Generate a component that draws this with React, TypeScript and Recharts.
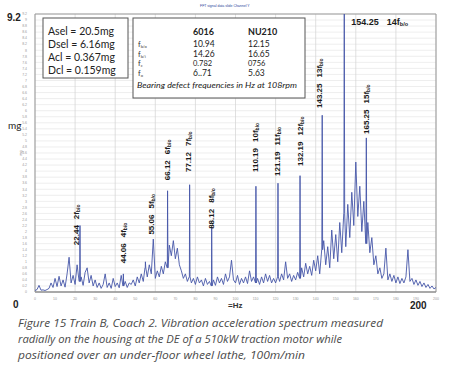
import React from "react";
import {
  ComposedChart,
  Line,
  XAxis,
  YAxis,
  CartesianGrid,
  ReferenceDot,
  ReferenceArea,
} from "recharts";

const TRACE = "#4556a8";
const FONT = "'Liberation Sans', Arial, sans-serif";
const BOX_FONT = "Lato, 'Open Sans', sans-serif";

// background spectrum, one value per Hz from 0 to 200 Hz (mg)
const NOISE: number[] = [
  0.05, 0.08, 0.22, 0.06, 0.07, 0.05, 0.08, 0.12, 0.3, 0.15,
  0.45, 0.18, 0.52, 0.2, 0.4, 0.16, 0.6, 1.15, 0.3, 0.55,
  0.25, 0.9, 0.35, 0.5, 0.22, 0.65, 0.8, 0.3, 0.55, 0.2,
  0.4, 0.15, 0.3, 0.12, 0.25, 0.6, 0.15, 0.3, 0.12, 0.45,
  0.18, 0.3, 0.14, 0.55, 0.2, 0.35, 0.15, 0.3, 0.25, 0.4,
  0.2, 0.5, 0.3, 0.6, 0.35, 0.8, 0.5, 0.9, 0.6, 1.75,
  0.45, 0.7, 0.5, 0.85, 0.6, 1.0, 0.8, 1.55, 1.2, 1.7,
  1.1, 1.45, 0.9, 0.7, 0.45, 0.6, 0.35, 0.5, 0.3, 0.45,
  0.25, 0.5, 0.3, 0.4, 0.2, 0.45, 0.25, 0.35, 0.2, 0.4,
  0.22, 0.5, 0.3, 0.45, 0.25, 0.6, 0.35, 0.5, 1.05, 0.4,
  0.3, 0.55, 0.25, 0.45, 0.3, 0.5, 0.28, 0.7, 0.35, 0.5,
  0.3, 0.45, 0.25, 0.5, 0.3, 0.6, 0.35, 0.55, 0.3, 0.45,
  0.3, 0.5, 0.35, 0.6, 0.4, 1.0, 0.45, 0.6, 0.35, 0.55,
  0.4, 0.65, 0.45, 0.8, 0.5, 0.95, 0.6, 0.85, 0.55, 1.05,
  0.7, 1.2, 0.6, 1.4, 1.7, 0.9, 1.5, 0.8, 2.05, 1.1,
  1.9, 1.0, 2.3, 1.3, 2.6, 1.5, 2.9, 1.8, 3.3, 2.2,
  4.3, 2.5, 3.5, 2.0, 3.0, 1.6, 2.3, 1.3, 1.8, 0.9,
  1.2, 0.6, 0.8, 0.45, 0.6, 1.45, 0.4, 0.6, 0.35, 0.55,
  0.3, 0.5, 0.28, 0.45, 0.3, 0.5, 1.4, 0.35, 0.45, 0.25,
  0.4, 0.22, 0.35, 0.18, 0.3, 0.15, 0.25, 0.12, 0.2, 0.1,
  0.15,
];

// labelled bearing-defect harmonics
const PEAK_HZ = [22.44, 44.06, 55.06, 66.12, 77.12, 88.12, 110.19, 121.19, 132.19, 143.25, 154.25, 165.25];
const PEAK_MG = [2.2, 0.6, 1.0, 3.35, 3.55, 2.15, 3.5, 3.6, 3.85, 5.85, 9.2, 5.1];
const PEAK_ORDER = ["2", "4", "5", "6", "7", "8", "10", "11", "12", "13", "14", "15"];
const LABEL_MG = [1.55, 0.95, 1.9, 3.7, 3.97, 2.09, 3.97, 3.84, 4.17, 6.09, 8.94, 5.23];
const LABEL_DX = [-4, 0, 6, -1, -1.5, -1, -1, -1, 0, -3, 7, 0];

const X_TICKS = [0, 10, 20, 30, 40, 50, 60, 70, 80, 90, 100, 110, 120, 130, 140, 150, 160, 170, 180, 190, 200];
const Y_TICKS = [
  0, 0.2, 0.4, 0.6, 0.8, 1, 1.2, 1.4, 1.6, 1.8, 2, 2.2, 2.4, 2.6, 2.8, 3, 3.2, 3.4, 3.6, 3.8, 4, 4.2, 4.4,
  4.6, 4.8, 5, 5.2, 5.4, 5.6, 5.8, 6, 6.2, 6.4, 6.6, 6.8, 7, 7.2, 7.4, 7.6, 7.8, 8, 8.2, 8.4, 8.6, 8.8, 9, 9.2,
];

const SEL_LINES = ["Asel = 20.5mg", "Dsel = 6.16mg", "Acl = 0.367mg", "Dcl = 0.159mg"];
const BEARINGS = ["6016", "NU210"];
const FREQ_NAMES = ["b/o", "b/i", "c", "o"];
const FREQ_6016 = ["10.94", "14.26", "0.782", "6..71"];
const FREQ_NU210 = ["12.15", "16.65", "0756", "5.63"];

const CAPTION = [
  "Figure 15 Train B, Coach 2. Vibration acceleration spectrum measured",
  "radially on the housing at the DE of a 510kW traction motor while",
  "positioned over an under-floor wheel lathe, 100m/min",
];
const CAPTION_W = [365, 324, 287];

const spectrum = (() => {
  const pts = NOISE.map((v, i) => ({ f: i, v }));
  PEAK_HZ.forEach((f, k) => {
    const base = NOISE[Math.round(f)];
    pts.push({ f: f - 0.2, v: base }, { f, v: PEAK_MG[k] }, { f: f + 0.2, v: base });
  });
  return pts.sort((a, b) => a.f - b.f);
})();

const PeakLabel = ({ viewBox, value, order, dx }: any) => {
  if (!viewBox) return null;
  const cx = viewBox.x + viewBox.width / 2 + dx;
  const cy = viewBox.y + viewBox.height / 2;
  return (
    <text
      transform={`translate(${cx},${cy}) rotate(-90)`}
      fontFamily={FONT}
      fontWeight="bold"
      fontSize={8}
      fill="#1a1a1a"
      dominantBaseline="central"
    >
      <tspan>{value}</tspan>
      <tspan dx={6}>{order}f</tspan>
      <tspan fontSize={5} dy={2}>b/o</tspan>
    </text>
  );
};

const TopLabel = ({ viewBox, value, order, dx }: any) => {
  if (!viewBox) return null;
  const x = viewBox.x + viewBox.width / 2 + dx;
  const y = viewBox.y + viewBox.height / 2;
  return (
    <text x={x} y={y} fontFamily={FONT} fontWeight="bold" fontSize={9} fill="#1a1a1a" dominantBaseline="central">
      <tspan>{value}</tspan>
      <tspan dx={8}>{order}f</tspan>
      <tspan fontSize={5.5} dy={2.5}>b/o</tspan>
    </text>
  );
};

const fmtY = (v: number) => `${Math.round(v * 10) / 10}`;

export default function App() {
  return (
    <div style={{ position: "absolute", left: 0, top: 0, width: 450, height: 370, background: "#fff", overflow: "hidden" }}>
      <ComposedChart
        width={450}
        height={305}
        data={spectrum}
        margin={{ top: 14, right: 14, left: 23, bottom: 3 }}
      >
        <CartesianGrid horizontal vertical={false} stroke="#e6e6e6" strokeWidth={0.7} />
        <CartesianGrid horizontal={false} vertical stroke="#d2d2d2" strokeWidth={0.7} />
        <XAxis
          dataKey="f"
          type="number"
          domain={[0, 200]}
          ticks={X_TICKS}
          height={10}
          tick={{ fontSize: 3.5, fill: "#9a9a9a", fontFamily: FONT, dy: -2 }}
          tickLine={false}
          axisLine={{ stroke: "#8a8a8a" }}
          allowDataOverflow
        />
        <YAxis
          type="number"
          domain={[0, 9.2]}
          ticks={Y_TICKS}
          width={12}
          interval={0}
          tickFormatter={fmtY}
          tick={{ fontSize: 3.5, fill: "#9a9a9a", fontFamily: FONT }}
          tickLine={false}
          axisLine={false}
          allowDataOverflow
        />
        <ReferenceArea x1={0} x2={200} y1={0} y2={9.2} fill="none" stroke="#9a9a9a" strokeWidth={1} />
        <Line
          dataKey="v"
          type="linear"
          stroke={TRACE}
          strokeWidth={0.9}
          dot={false}
          isAnimationActive={false}
        />
        {PEAK_HZ.map((f, k) => (
          <ReferenceDot
            key={f}
            x={f}
            y={LABEL_MG[k]}
            r={1}
            fill="none"
            stroke="none"
            label={(p: any) =>
              k === 10 ? (
                <TopLabel viewBox={p.viewBox} value={f.toFixed(2)} order={PEAK_ORDER[k]} dx={LABEL_DX[k]} />
              ) : (
                <PeakLabel viewBox={p.viewBox} value={f.toFixed(2)} order={PEAK_ORDER[k]} dx={LABEL_DX[k]} />
              )
            }
          />
        ))}
      </ComposedChart>

      <svg width={450} height={370} style={{ position: "absolute", left: 0, top: 0, pointerEvents: "none" }}>
        <text x={200} y={7} fontSize={3.5} fill="#2b3f9a" fontFamily={FONT}>FFT signal data slide Channel Y</text>

        <text x={7} y={21} fontSize={10} fontWeight="bold" fill="#222" fontFamily={FONT}>9.2</text>
        <text x={13} y={308} fontSize={10} fontWeight="bold" fill="#222" fontFamily={FONT}>0</text>
        <text x={410} y={309} fontSize={10} fontWeight="bold" fill="#222" fontFamily={FONT}>200</text>
        <text x={228} y={308} fontSize={8} fontWeight="bold" fill="#333" fontFamily={FONT}>=Hz</text>
        <text x={8} y={129} fontSize={10} fill="#222" fontFamily={BOX_FONT}>mg</text>
        <text transform="translate(22,153) rotate(-90)" fontSize={3.5} fill="#777" fontFamily={FONT} textAnchor="middle">mg</text>

        <rect x={43} y={18} width={85} height={60} fill="#fff" stroke="#555" strokeWidth={1} />
        {SEL_LINES.map((s, i) => (
          <text key={s} x={48} y={35 + i * 13} fontSize={10.5} fill="#222" fontFamily={BOX_FONT}>{s}</text>
        ))}

        <rect x={133} y={18} width={172} height={80} fill="#fff" stroke="#555" strokeWidth={1} />
        <text x={193} y={35} fontSize={9} fontWeight="bold" fill="#222" fontFamily={BOX_FONT}>{BEARINGS[0]}</text>
        <text x={248} y={35} fontSize={9} fontWeight="bold" fill="#222" fontFamily={BOX_FONT}>{BEARINGS[1]}</text>
        {FREQ_NAMES.map((n, i) => {
          const y = [47, 57, 66, 76][i];
          return (
            <g key={n}>
              <text x={138} y={y} fontSize={7.5} fill="#333" fontFamily={BOX_FONT}>
                f<tspan fontSize={4} dy={0.5}>{n}</tspan>
              </text>
              <text x={193} y={y} fontSize={i === 2 ? 7.5 : 8.5} fill="#222" fontFamily={BOX_FONT}>{FREQ_6016[i]}</text>
              <text x={248} y={y} fontSize={i === 2 ? 7.5 : 8.5} fill="#222" fontFamily={BOX_FONT}>{FREQ_NU210[i]}</text>
            </g>
          );
        })}
        <text x={137} y={88} fontSize={8.5} fontStyle="italic" fill="#222" fontFamily={BOX_FONT} textLength={160} lengthAdjust="spacingAndGlyphs">
          Bearing defect frequencies in Hz at 108rpm
        </text>

        {CAPTION.map((line, i) => (
          <text
            key={i}
            x={18}
            y={327 + i * 16}
            fontSize={11.5}
            fontStyle="italic"
            fill="#4a4a4a"
            fontFamily="'Open Sans', sans-serif"
            textLength={CAPTION_W[i]}
            lengthAdjust="spacingAndGlyphs"
          >
            {line}
          </text>
        ))}
      </svg>
    </div>
  );
}
